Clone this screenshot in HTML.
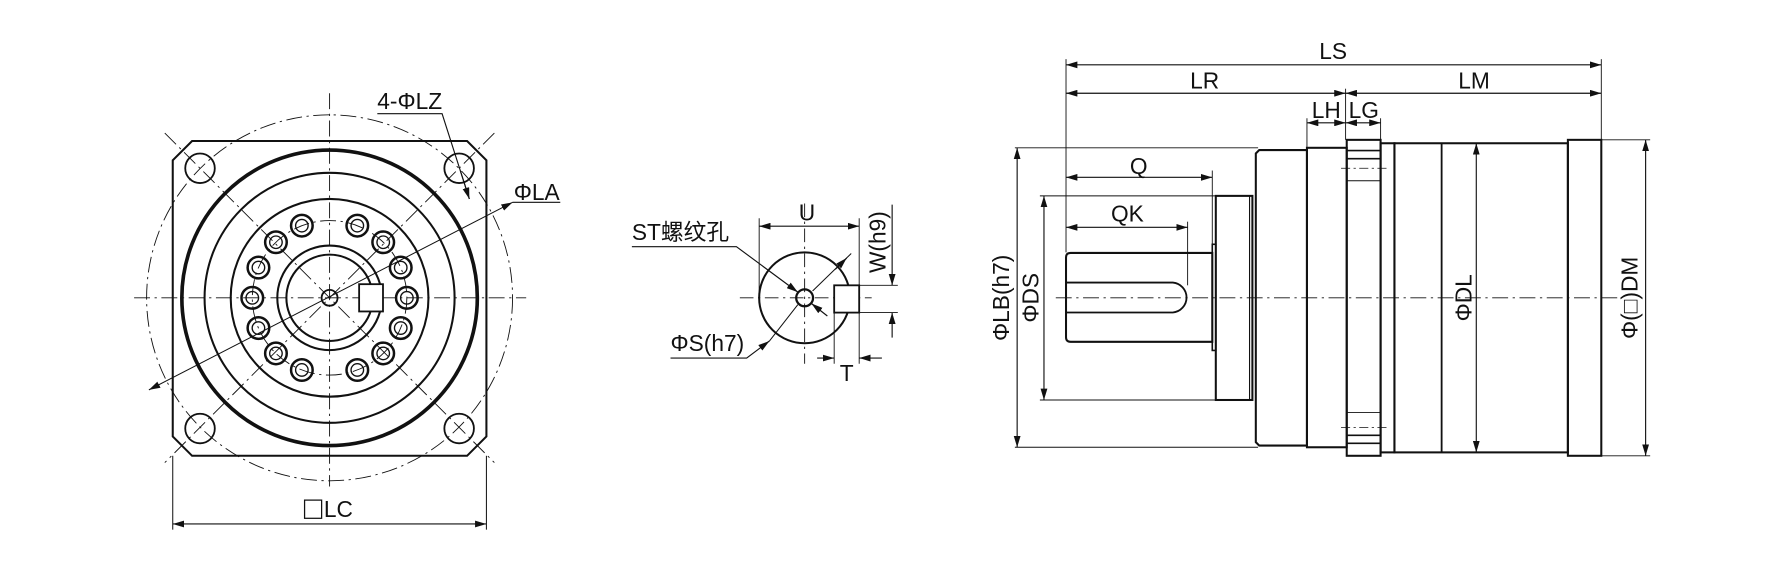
<!DOCTYPE html>
<html><head><meta charset="utf-8"><style>
html,body{margin:0;padding:0;background:#fff;}
svg{display:block;}
text{font-family:"Liberation Sans Narrow","Liberation Sans","Noto Sans CJK SC",sans-serif;fill:#111;}
</style></head><body>
<svg width="1782" height="582" viewBox="0 0 1568 512" xmlns="http://www.w3.org/2000/svg">
<defs>
<marker id="a" viewBox="0 0 10 6" refX="10" refY="3" markerWidth="10" markerHeight="6" markerUnits="userSpaceOnUse" orient="auto-start-reverse"><path d="M0,0 L10,3 L0,6 z" fill="#111"/></marker>
</defs>
<g fill="none" stroke="#111" stroke-width="1">
<!-- LEFT VIEW -->
<g stroke-width="0.8" stroke-dasharray="14,4,2,4">
<line x1="118" y1="262" x2="463" y2="262"/>
<line x1="290" y1="82" x2="290" y2="428"/>
<line x1="145" y1="117" x2="435" y2="407"/>
<line x1="435" y1="117" x2="145" y2="407"/>
<circle cx="290" cy="262" r="161"/>
<circle cx="290" cy="262" r="68"/>
</g>
<path d="M169,124 L411,124 L428,141 L428,384 L411,401 L169,401 L152,384 L152,141 Z" stroke-width="1.8"/>
<circle cx="176" cy="148" r="13" stroke-width="1.6"/>
<circle cx="404" cy="148" r="13" stroke-width="1.6"/>
<circle cx="176" cy="377" r="13" stroke-width="1.6"/>
<circle cx="404" cy="377" r="13" stroke-width="1.6"/>
<circle cx="290" cy="262" r="130" stroke-width="3.2"/>
<circle cx="290" cy="262" r="110" stroke-width="1.8"/>
<circle cx="290" cy="262" r="87" stroke-width="1.8"/>
<circle cx="290" cy="262" r="46" stroke-width="1.8"/>
<circle cx="290" cy="262" r="38" stroke-width="1.8"/>
<circle cx="290" cy="262" r="7" stroke-width="1.6"/>
<rect x="316" y="250" width="21" height="24" stroke-width="1.6" fill="#fff"/>
<g stroke-width="2.2">
<circle cx="358" cy="262" r="9.5"/><circle cx="352.6" cy="235.4" r="9.5"/><circle cx="352.6" cy="288.6" r="9.5"/>
<circle cx="337.2" cy="213.1" r="9.5"/><circle cx="337.2" cy="310.9" r="9.5"/><circle cx="314.4" cy="198.5" r="9.5"/><circle cx="314.4" cy="325.5" r="9.5"/>
<circle cx="222" cy="262" r="9.5"/><circle cx="227.4" cy="235.4" r="9.5"/><circle cx="227.4" cy="288.6" r="9.5"/>
<circle cx="242.8" cy="213.1" r="9.5"/><circle cx="242.8" cy="310.9" r="9.5"/><circle cx="265.6" cy="198.5" r="9.5"/><circle cx="265.6" cy="325.5" r="9.5"/>
</g>
<g stroke-width="1.2">
<circle cx="358" cy="262" r="5.5"/><circle cx="352.6" cy="235.4" r="5.5"/><circle cx="352.6" cy="288.6" r="5.5"/>
<circle cx="337.2" cy="213.1" r="5.5"/><circle cx="337.2" cy="310.9" r="5.5"/><circle cx="314.4" cy="198.5" r="5.5"/><circle cx="314.4" cy="325.5" r="5.5"/>
<circle cx="222" cy="262" r="5.5"/><circle cx="227.4" cy="235.4" r="5.5"/><circle cx="227.4" cy="288.6" r="5.5"/>
<circle cx="242.8" cy="213.1" r="5.5"/><circle cx="242.8" cy="310.9" r="5.5"/><circle cx="265.6" cy="198.5" r="5.5"/><circle cx="265.6" cy="325.5" r="5.5"/>
</g>
<!-- LZ leader -->
<polyline points="332,100 389,100 413,175" stroke-width="1"/>
<line x1="405" y1="150" x2="413" y2="175" marker-end="url(#a)"/>
<!-- LA leader -->
<polyline points="493,178 451,178" stroke-width="1"/>
<line x1="451" y1="178" x2="131" y2="343" marker-start="url(#a)" marker-end="url(#a)" stroke-width="0.9"/>
<!-- LC dim -->
<line x1="152" y1="401" x2="152" y2="466" stroke-width="0.9"/>
<line x1="428" y1="401" x2="428" y2="466" stroke-width="0.9"/>
<line x1="152" y1="461" x2="428" y2="461" marker-start="url(#a)" marker-end="url(#a)"/>
<rect x="268" y="440" width="15" height="16" stroke-width="1.1"/>

<!-- MIDDLE VIEW -->
<g stroke-width="0.8" stroke-dasharray="12,4,2,4">
<line x1="651" y1="262" x2="767" y2="262"/>
<line x1="708" y1="179" x2="708" y2="320"/>
</g>
<circle cx="708" cy="262" r="40" stroke-width="1.8"/>
<circle cx="708" cy="262" r="7.4" stroke-width="2"/>
<rect x="734" y="251" width="22" height="24" stroke-width="1.6" fill="#fff"/>
<line x1="668" y1="192" x2="668" y2="262" stroke-width="0.8"/>
<line x1="756" y1="192" x2="756" y2="251" stroke-width="0.8"/>
<line x1="668" y1="199" x2="756" y2="199" marker-start="url(#a)" marker-end="url(#a)"/>
<line x1="756" y1="251" x2="790" y2="251" stroke-width="0.8"/>
<line x1="756" y1="275" x2="790" y2="275" stroke-width="0.8"/>
<line x1="785" y1="180" x2="785" y2="251" marker-end="url(#a)"/>
<line x1="785" y1="297" x2="785" y2="275" marker-end="url(#a)"/>
<line x1="734" y1="275" x2="734" y2="320" stroke-width="0.8"/>
<line x1="756" y1="275" x2="756" y2="320" stroke-width="0.8"/>
<line x1="719" y1="315" x2="734" y2="315" marker-end="url(#a)"/>
<line x1="776" y1="315" x2="756" y2="315" marker-end="url(#a)"/>
<polyline points="556,217 648,217 702,257" marker-end="url(#a)"/>
<line x1="749" y1="223" x2="715" y2="256" stroke-width="0.9"/>
<line x1="735" y1="237" x2="745" y2="227" marker-end="url(#a)"/>
<line x1="728" y1="278" x2="714" y2="267" marker-end="url(#a)"/>
<polyline points="590,315 657,315 677,300" marker-end="url(#a)"/>
<line x1="677" y1="300" x2="702" y2="268" stroke-width="0.9"/>

<!-- RIGHT VIEW -->
<line x1="929" y1="262" x2="1425" y2="262" stroke-width="0.8" stroke-dasharray="14,4,2,4"/>
<path d="M942,222.5 L1066.7,222.5 L1066.7,300.7 L942,300.7 Q938,300.7 938,296.7 L938,226.5 Q938,222.5 942,222.5 Z" stroke-width="1.8"/>
<path d="M938,248.6 L1032,248.6 A13.2,13.2 0 0 1 1032,274.9 L938,274.9" stroke-width="1.6"/>
<rect x="1066.7" y="214.9" width="3.1" height="93.4" stroke-width="1.4"/>
<rect x="1069.8" y="172.3" width="32.2" height="179.6" stroke-width="1.8"/>
<line x1="1099.5" y1="172.3" x2="1099.5" y2="351.9" stroke-width="1"/>
<path d="M1108,132 L1150,132 L1150,392 L1108,392 L1105,389 L1105,135 Z" stroke-width="1.8"/>
<rect x="1150" y="130" width="35" height="263.5" stroke-width="1.8"/>
<rect x="1185" y="123" width="29.8" height="278" stroke-width="1.8"/>
<line x1="1185" y1="132.4" x2="1214.8" y2="132.4" stroke-width="1.4"/>
<line x1="1185" y1="139.6" x2="1214.8" y2="139.6" stroke-width="1.4"/>
<line x1="1185" y1="159" x2="1214.8" y2="159" stroke-width="0.8"/>
<line x1="1185" y1="363" x2="1214.8" y2="363" stroke-width="0.8"/>
<line x1="1185" y1="383" x2="1214.8" y2="383" stroke-width="1.4"/>
<line x1="1185" y1="390" x2="1214.8" y2="390" stroke-width="1.4"/>
<line x1="1180" y1="148" x2="1222" y2="148" stroke-width="0.7" stroke-dasharray="8,3,2,3"/>
<line x1="1180" y1="376" x2="1222" y2="376" stroke-width="0.7" stroke-dasharray="8,3,2,3"/>
<rect x="1214.8" y="126" width="12.2" height="272" stroke-width="1.8"/>
<rect x="1227" y="126" width="152.6" height="272" stroke-width="1.8"/>
<line x1="1268.5" y1="126" x2="1268.5" y2="398" stroke-width="1.6"/>
<rect x="1379.6" y="123" width="29.4" height="278" stroke-width="1.8"/>
<!-- extension lines -->
<g stroke-width="0.8">
<line x1="938" y1="52" x2="938" y2="222"/>
<line x1="1409" y1="52" x2="1409" y2="123"/>
<line x1="1184" y1="78" x2="1184" y2="123"/>
<line x1="1150" y1="104" x2="1150" y2="130"/>
<line x1="1214.8" y1="104" x2="1214.8" y2="126"/>
<line x1="1409" y1="123" x2="1452" y2="123"/>
<line x1="1409" y1="401" x2="1452" y2="401"/>
<line x1="893" y1="130" x2="1107" y2="130"/>
<line x1="893" y1="393.5" x2="1107" y2="393.5"/>
<line x1="915" y1="172.3" x2="1070" y2="172.3"/>
<line x1="915" y1="351.9" x2="1070" y2="351.9"/>
<line x1="1066.7" y1="150" x2="1066.7" y2="215"/>
<line x1="1045" y1="195" x2="1045" y2="251"/>
</g>
<line x1="938" y1="57" x2="1409" y2="57" marker-start="url(#a)" marker-end="url(#a)"/>
<line x1="938" y1="82" x2="1184" y2="82" marker-start="url(#a)" marker-end="url(#a)"/>
<line x1="1184" y1="82" x2="1409" y2="82" marker-start="url(#a)" marker-end="url(#a)"/>
<line x1="1150" y1="108" x2="1184" y2="108" marker-start="url(#a)" marker-end="url(#a)"/>
<line x1="1184" y1="108" x2="1214.8" y2="108" marker-start="url(#a)" marker-end="url(#a)"/>
<line x1="938" y1="156" x2="1066.7" y2="156" marker-start="url(#a)" marker-end="url(#a)"/>
<line x1="938" y1="200" x2="1045" y2="200" marker-start="url(#a)" marker-end="url(#a)"/>
<line x1="895" y1="130" x2="895" y2="393.5" marker-start="url(#a)" marker-end="url(#a)"/>
<line x1="918.6" y1="172.3" x2="918.6" y2="351.9" marker-start="url(#a)" marker-end="url(#a)"/>
<line x1="1299" y1="126" x2="1299" y2="398" marker-start="url(#a)" marker-end="url(#a)"/>
<line x1="1448" y1="123" x2="1448" y2="401" marker-start="url(#a)" marker-end="url(#a)"/>
</g>
<!-- TEXT -->
<g font-size="20">
<text x="332" y="96">4-ΦLZ</text>
<text x="452" y="176">ΦLA</text>
<text x="285" y="455">LC</text>
<text x="710" y="194" text-anchor="middle">U</text>
<text x="556" y="211" font-family="Liberation Sans Narrow, Liberation Sans, Noto Sans CJK SC, sans-serif">ST螺纹孔</text>
<text x="590" y="309">ΦS(h7)</text>
<text x="745" y="335" text-anchor="middle">T</text>
<text transform="translate(779,213) rotate(-90)" text-anchor="middle">W(h9)</text>
<text x="1173" y="52" text-anchor="middle">LS</text>
<text x="1060" y="78" text-anchor="middle">LR</text>
<text x="1297" y="78" text-anchor="middle">LM</text>
<text x="1167" y="104" text-anchor="middle">LH</text>
<text x="1200" y="104" text-anchor="middle">LG</text>
<text x="1002" y="153" text-anchor="middle">Q</text>
<text x="992" y="195" text-anchor="middle">QK</text>
<text transform="translate(888,262) rotate(-90)" text-anchor="middle">ΦLB(h7)</text>
<text transform="translate(914,262) rotate(-90)" text-anchor="middle">ΦDS</text>
<text transform="translate(1295,262) rotate(-90)" text-anchor="middle">ΦDL</text>
<text transform="translate(1441,262) rotate(-90)" text-anchor="middle">Φ(□)DM</text>
</g>
</svg>
</body></html>
